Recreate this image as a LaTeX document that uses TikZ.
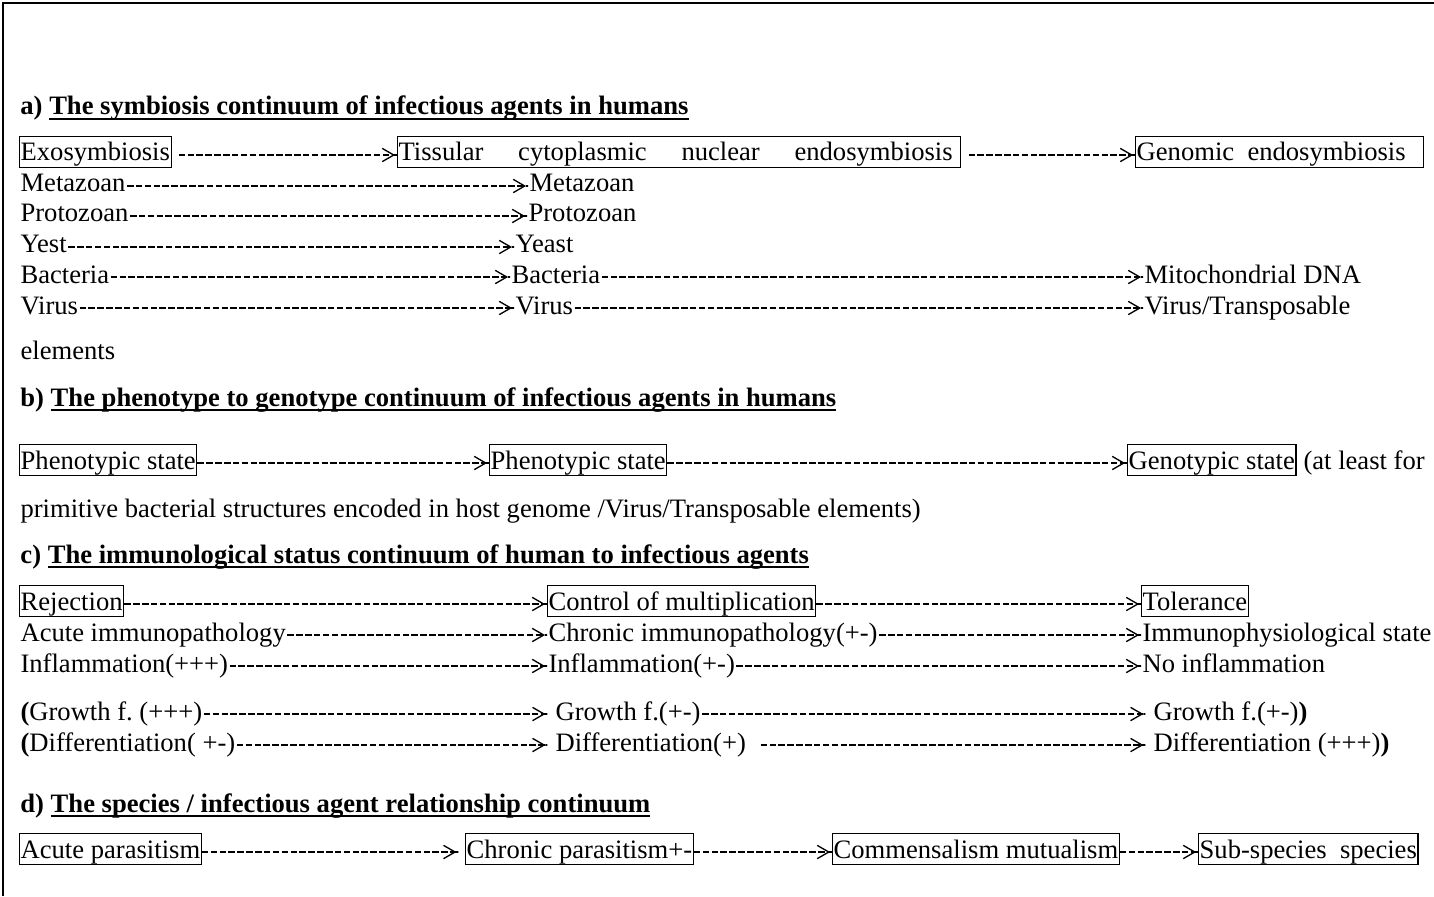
\documentclass[tikz,border=0pt]{standalone}
\usepackage{fontspec}
\setmainfont{Liberation Serif}
\usetikzlibrary{arrows.meta}
\frenchspacing
\newsavebox{\hdbox}
\newcommand{\hdul}[1]{\sbox{\hdbox}{#1}\rlap{\rule[-2.3pt]{\wd\hdbox}{0.85pt}}\usebox{\hdbox}}
\tikzset{
  txt/.style   ={anchor=base west, inner xsep=0.5pt, inner ysep=0.3pt,
                 text height=10.7pt, text depth=2.6pt},
  stbox/.style ={txt, draw, line width=0.5pt},
  hdg/.style   ={anchor=base west, inner sep=0pt,
                 font=\fontsize{12}{14}\selectfont\bfseries},
  lnk/.style   ={-{Straight Barb[length=5.2pt,width=6pt,line width=0.6pt,sep=0.5pt]Butt Cap[]},
                 line width=0.75pt, dash pattern=on 2.95pt off 1.05pt,
                 transform canvas={yshift=-1.35pt}},
  gapl/.style  ={shorten <=3.2pt},
  gapr/.style  ={shorten >=3pt},
  frame/.style ={line width=0.9pt},
}
\begin{document}
\begin{tikzpicture}[x=0.4511pt, y=-0.4511pt, font=\fontsize{12}{14}\selectfont]
\useasboundingbox (0,0) rectangle (1434,896);
\draw[frame] (3,896) -- (3,3) -- (1434,3);

% a) symbiosis continuum
\node[hdg] (ha) at (20,115) {a) \hdul{The symbiosis continuum of infectious agents in humans}};
\node[stbox] (exo) at (19,161) {Exosymbiosis};
\node[stbox] (endo) at (397,161)
  {\makebox[249.9pt][s]{Tissular cytoplasmic nuclear endosymbiosis}\kern3.2pt};
\node[stbox] (geno) at (1135,161) {Genomic\ \ endosymbiosis\kern7.5pt};
\draw[lnk, gapl] (exo.east) -- (endo.west);
\draw[lnk, gapl] (endo.east) -- (geno.west);

\node[txt] (meta1) at (19,192) {Metazoan};
\node[txt] (meta2) at (528,192) {Metazoan};
\node[txt] (proto1) at (19,222) {Protozoan};
\node[txt] (proto2) at (527,222) {Protozoan};
\node[txt] (yest) at (19,253) {Yest};
\node[txt] (yeast) at (514,253) {Yeast};
\node[txt] (bac1) at (19,283) {Bacteria};
\node[txt] (bac2) at (510,283) {Bacteria};
\node[txt] (mito) at (1143,283) {Mitochondrial DNA};
\node[txt] (vir1) at (19,314) {Virus};
\node[txt] (vir2) at (514,314) {Virus};
\node[txt] (vtrans) at (1143,314) {Virus/Transposable};
\draw[lnk] (meta1.east) -- (meta2.west);
\draw[lnk] (proto1.east) -- (proto2.west);
\draw[lnk] (yest.east) -- (yeast.west);
\draw[lnk] (bac1.east) -- (bac2.west);
\draw[lnk] (bac2.east) -- (mito.west);
\draw[lnk] (vir1.east) -- (vir2.west);
\draw[lnk] (vir2.east) -- (vtrans.west);
\node[txt] (elem) at (19,359) {elements};

% b) phenotype to genotype
\node[hdg] (hb) at (20,406) {b) \hdul{The phenotype to genotype continuum of infectious agents in humans}};
\node[stbox] (phen1) at (19,469) {Phenotypic state};
\node[stbox] (phen2) at (489,469) {Phenotypic state};
\node[stbox] (genot) at (1127,469) {Genotypic state};
\node[txt] (least) at (1302,469) {(at least for};
\draw[lnk] (phen1.east) -- (phen2.west);
\draw[lnk] (phen2.east) -- (genot.west);
\node[txt] (prim) at (19,517)
  {primitive bacterial structures encoded in host genome /Virus/Transposable elements)};

% c) immunological status
\node[hdg] (hc) at (20,563) {c) \hdul{The immunological status continuum of human to infectious agents}};
\node[stbox] (rej) at (19,610) {Rejection};
\node[stbox] (ctrl) at (547,610) {Control of multiplication};
\node[stbox] (tol) at (1141,610) {Tolerance};
\draw[lnk] (rej.east) -- (ctrl.west);
\draw[lnk] (ctrl.east) -- (tol.west);
\node[txt] (acute) at (19,641) {Acute immunopathology};
\node[txt] (chron) at (547,641) {Chronic immunopathology(+-)};
\node[txt] (immph) at (1141,641) {Immunophysiological state};
\draw[lnk] (acute.east) -- (chron.west);
\draw[lnk] (chron.east) -- (immph.west);
\node[txt] (infl1) at (19,672) {Inflammation(+++)};
\node[txt] (infl2) at (547,672) {Inflammation(+-)};
\node[txt] (noinf) at (1141,672) {No inflammation};
\draw[lnk] (infl1.east) -- (infl2.west);
\draw[lnk] (infl2.east) -- (noinf.west);
\node[txt] (grow1) at (19,720) {\textbf{(}Growth f. (+++)};
\node[txt] (grow2) at (554,720) {Growth f.(+-)};
\node[txt] (grow3) at (1152,720) {Growth f.(+-)\textbf{)}};
\draw[lnk, gapr] (grow1.east) -- (grow2.west);
\draw[lnk, gapr] (grow2.east) -- (grow3.west);
\node[txt] (diff1) at (19,751) {\textbf{(}Differentiation( +-)};
\node[txt] (diff2) at (554,751) {Differentiation(+)};
\node[txt] (diff3) at (1152,751) {Differentiation (+++)\textbf{)}};
\draw[lnk, gapr] (diff1.east) -- (diff2.west);
\draw[lnk, gapr, shorten <=6pt] (diff2.east) -- (diff3.west);

% d) species / agent relationship
\node[hdg] (hd) at (20,812) {d) \hdul{The species / infectious agent relationship continuum}};
\node[stbox] (acp) at (19,858) {Acute parasitism};
\node[stbox] (chp) at (465,858) {Chronic parasitism+-};
\node[stbox] (comm) at (832,858) {Commensalism mutualism};
\node[stbox] (subsp) at (1198,858) {Sub-species\ \ species};
\draw[lnk, gapr] (acp.east) -- (chp.west);
\draw[lnk] (chp.east) -- (comm.west);
\draw[lnk] (comm.east) -- (subsp.west);
\end{tikzpicture}
\end{document}
